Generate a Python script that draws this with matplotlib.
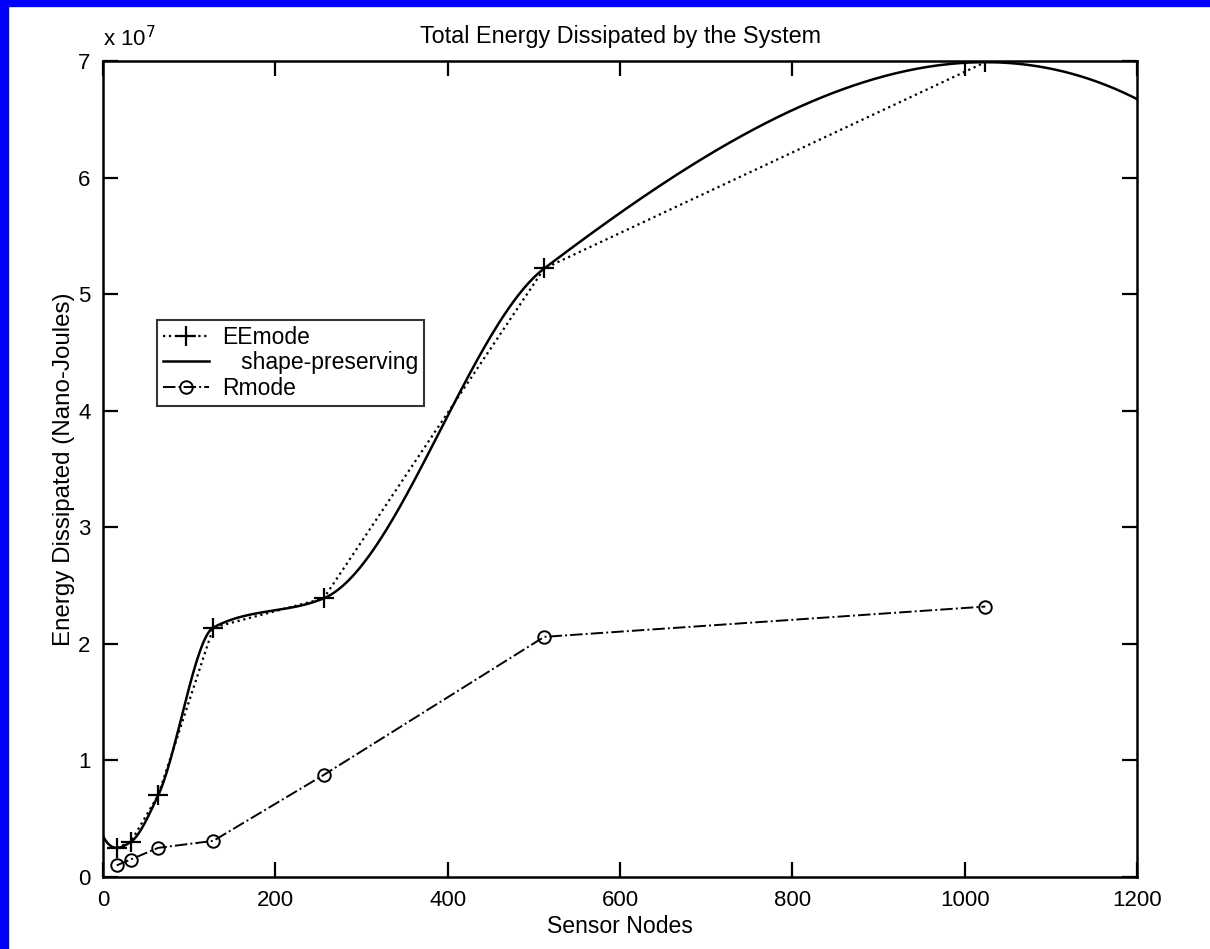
import numpy as np
import matplotlib

matplotlib.use("Agg")
import matplotlib.pyplot as plt
from matplotlib.patches import Rectangle
from matplotlib.ticker import FuncFormatter

plt.rcParams["font.family"] = ["Liberation Sans", "DejaVu Sans"]

NODES = [16, 32, 64, 128, 256, 512, 1024]
EE_MODE = [0.25e7, 0.30e7, 0.70e7, 2.14e7, 2.39e7, 5.22e7, 6.99e7]
R_MODE = [0.10e7, 0.15e7, 0.25e7, 0.31e7, 0.875e7, 2.06e7, 2.32e7]


def pchip_slopes(x, y):
    h = np.diff(x)
    delta = np.diff(y) / h
    d = np.zeros_like(y)
    for k in range(1, len(x) - 1):
        if delta[k - 1] * delta[k] > 0:
            w1 = 2 * h[k] + h[k - 1]
            w2 = h[k] + 2 * h[k - 1]
            d[k] = (w1 + w2) / (w1 / delta[k - 1] + w2 / delta[k])

    def end_slope(h0, h1, del0, del1):
        s = ((2 * h0 + h1) * del0 - h0 * del1) / (h0 + h1)
        if np.sign(s) != np.sign(del0):
            s = 0.0
        elif np.sign(del0) != np.sign(del1) and abs(s) > abs(3 * del0):
            s = 3 * del0
        return s

    d[0] = end_slope(h[0], h[1], delta[0], delta[1])
    d[-1] = end_slope(h[-1], h[-2], delta[-1], delta[-2])
    return d


def pchip_eval(x, y, xq):
    x = np.asarray(x, float)
    y = np.asarray(y, float)
    d = pchip_slopes(x, y)
    idx = np.clip(np.searchsorted(x, xq) - 1, 0, len(x) - 2)
    h = x[idx + 1] - x[idx]
    t = (xq - x[idx]) / h
    h00 = 2 * t**3 - 3 * t**2 + 1
    h10 = t**3 - 2 * t**2 + t
    h01 = -2 * t**3 + 3 * t**2
    h11 = t**3 - t**2
    return h00 * y[idx] + h10 * h * d[idx] + h01 * y[idx + 1] + h11 * h * d[idx + 1]


fig = plt.figure(figsize=(12.1, 9.49), dpi=100)
fig.patches.append(Rectangle((0, 0), 8 / 1210, 1, transform=fig.transFigure,
                             color="#0000ff", zorder=0))
fig.patches.append(Rectangle((0, 1 - 6 / 949), 1, 6 / 949, transform=fig.transFigure,
                             color="#0000ff", zorder=0))

ax = fig.add_axes([103 / 1210, 1 - 877 / 949, (1137 - 103) / 1210, (877 - 61) / 949])

xs = np.linspace(0, 1200, 600)
ax.plot(NODES, EE_MODE, color="black", linestyle=":", linewidth=1.6,
        marker="+", markersize=14, markeredgewidth=1.6, label="EEmode")
ax.plot(xs, pchip_eval(NODES, EE_MODE, xs), color="black", linestyle="-",
        linewidth=1.8, label="   shape-preserving")
ax.plot(NODES, R_MODE, color="black", linestyle="-.", linewidth=1.4,
        marker="o", markersize=9, markerfacecolor="none", markeredgewidth=1.4,
        label="Rmode")

ax.set_xlim(0, 1200)
ax.set_ylim(0, 7e7)
ax.set_xticks(np.arange(0, 1201, 200))
ax.set_yticks(np.arange(0, 7.01e7, 1e7))
ax.yaxis.set_major_formatter(FuncFormatter(lambda v, p: f"{v / 1e7:g}"))
ax.tick_params(direction="in", length=11, width=1.6, top=True, right=True,
               labelsize=16, pad=9)
for spine in ax.spines.values():
    spine.set_linewidth(1.8)

ax.text(0.0, 1.012, "x 10$^7$", transform=ax.transAxes, fontsize=16,
        ha="left", va="bottom")
ax.set_title("Total Energy Dissipated by the System", fontsize=16.8, pad=13)
ax.set_xlabel("Sensor Nodes", fontsize=16.6, labelpad=3)
ax.set_ylabel("Energy Dissipated (Nano-Joules)", fontsize=17.4, labelpad=2)

leg = ax.legend(loc="upper left", bbox_to_anchor=(54 / 1034, 1 - 259 / 816),
                fontsize=16.5, frameon=True, fancybox=False, edgecolor="black",
                handlelength=2.0, borderpad=0.25, labelspacing=0.12,
                handletextpad=0.6, borderaxespad=0.0)
leg.get_frame().set_linewidth(1.5)

fig.savefig("out.png", dpi=100, facecolor="white")
